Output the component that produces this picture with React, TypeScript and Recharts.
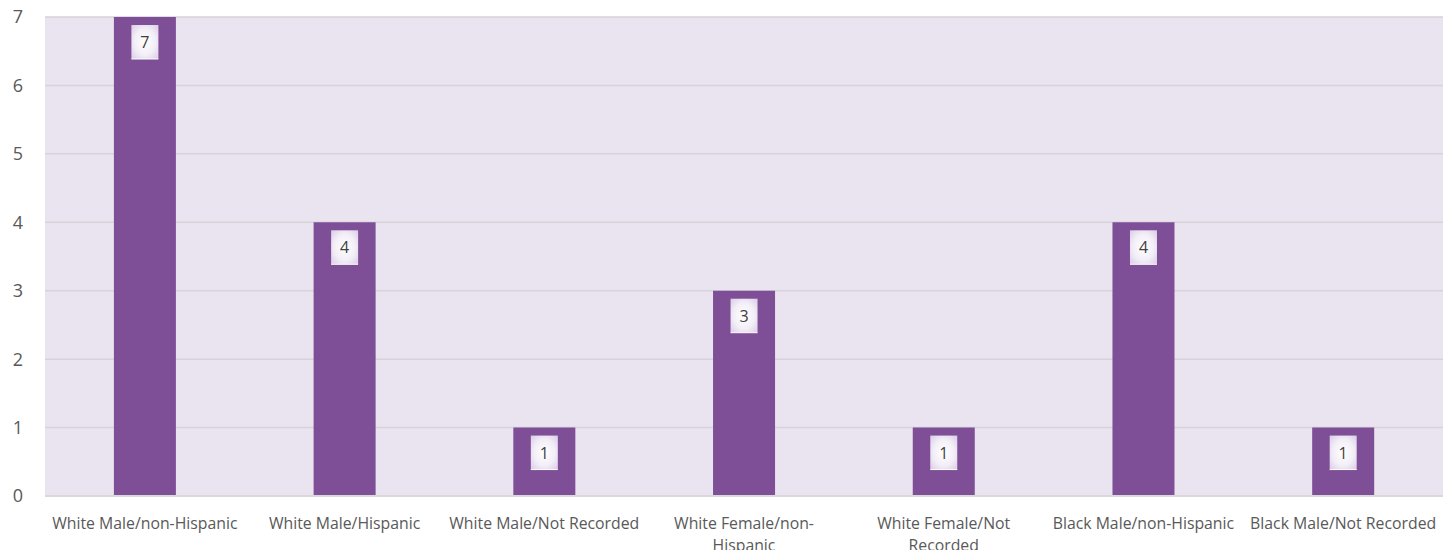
import { BarChart, Bar, XAxis, YAxis, CartesianGrid, LabelList } from "recharts";

const categories = [
    "White Male/non-Hispanic",
    "White Male/Hispanic",
    "White Male/Not Recorded",
    "White Female/non-Hispanic",
    "White Female/Not Recorded",
    "Black Male/non-Hispanic",
    "Black Male/Not Recorded",
];
const counts = [7, 4, 1, 3, 1, 4, 1];
const yTicks = [0, 1, 2, 3, 4, 5, 6, 7];

const data = categories.map((name, i) => ({ name, count: counts[i] }));

const FONT = "'Open Sans', 'Noto Sans', sans-serif";
const X_FONT_SIZE = 15.8;
const X_WRAP = 200;

let ctx: CanvasRenderingContext2D | null = null;
const measure = (s: string) => {
    if (!ctx) ctx = document.createElement("canvas").getContext("2d");
    if (!ctx) return s.length * X_FONT_SIZE * 0.5;
    ctx.font = `${X_FONT_SIZE}px ${FONT}`;
    return ctx.measureText(s).width;
};

// greedy wrap, allowing breaks after spaces and hyphens
const wrap = (label: string) => {
    const parts = label.match(/[^\s-]+-?\s*|\s+/g) || [label];
    const lines: string[] = [];
    let cur = "";
    for (const p of parts) {
        const next = cur + p;
        if (cur && measure(next.trimEnd()) > X_WRAP) {
            lines.push(cur.trimEnd());
            cur = p.trimStart();
        } else {
            cur = next;
        }
    }
    if (cur) lines.push(cur.trimEnd());
    return lines;
};

const XTick = (props: any) => {
    const { x, y, payload } = props;
    const lines = wrap(String(payload.value));
    return (
        <text
            x={x}
            y={y + 25}
            textAnchor="middle"
            fontSize={X_FONT_SIZE}
            fontFamily={FONT}
            fill="#595959"
        >
            {lines.map((l, i) => (
                <tspan key={i} x={x} dy={i === 0 ? 0 : 22}>
                    {l}
                </tspan>
            ))}
        </text>
    );
};

const ValueLabel = (props: any) => {
    const { x, y, width, value } = props;
    const cx = x + width / 2;
    return (
        <g>
            <rect x={cx - 13.5} y={y + 8} width={27} height={34} fill="url(#labelGrad)" />
            <line x1={cx - 13.5} x2={cx + 13.5} y1={y + 42} y2={y + 42} stroke="#ffffff" strokeWidth={1} />
            <text
                x={cx}
                y={y + 25}
                textAnchor="middle"
                dominantBaseline="central"
                fontSize={16}
                fontFamily={FONT}
                fill="#404040"
            >
                {value}
            </text>
        </g>
    );
};

export default function App() {
    return (
        <div style={{ width: 1456, height: 550, background: "#ffffff", overflow: "hidden" }}>
            <style>{"body{margin:0}"}</style>
            <BarChart
                width={1456}
                height={550}
                data={data}
                margin={{ top: 17, right: 13, bottom: 0, left: 0 }}
                barCategoryGap="34.5%"
            >
                <defs>
                    <radialGradient id="labelGrad" cx="50%" cy="50%" r="70%">
                        <stop offset="0%" stopColor="#ffffff" />
                        <stop offset="55%" stopColor="#f3eef7" />
                        <stop offset="100%" stopColor="#d9cce6" />
                    </radialGradient>
                </defs>
                <CartesianGrid vertical={false} fill="#EAE3F0" stroke="#D6D3D9" strokeWidth={1.5} />
                <XAxis
                    dataKey="name"
                    interval={0}
                    height={54}
                    axisLine={{ stroke: "#D9D9D9", strokeWidth: 2 }}
                    tickLine={false}
                    tick={<XTick />}
                />
                <YAxis
                    width={45}
                    domain={[0, 7]}
                    ticks={yTicks}
                    axisLine={false}
                    tickLine={false}
                    tickSize={0}
                    tickMargin={22}
                    tick={{ fontSize: 18, fontFamily: FONT, fill: "#595959" }}
                />
                <Bar dataKey="count" fill="#7E4E97" isAnimationActive={false}>
                    <LabelList dataKey="count" content={<ValueLabel />} />
                </Bar>
            </BarChart>
        </div>
    );
}
